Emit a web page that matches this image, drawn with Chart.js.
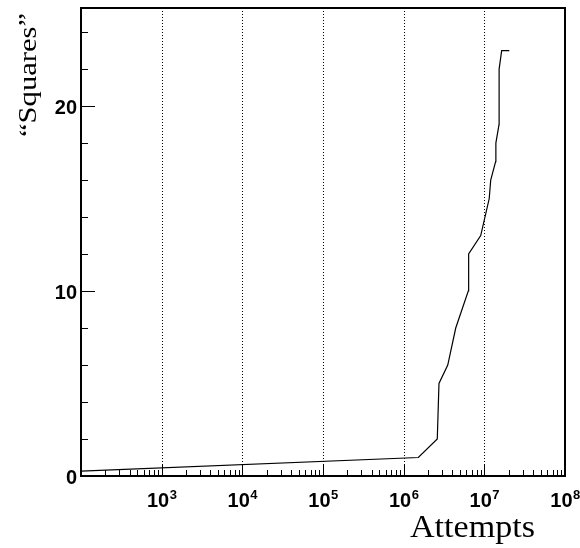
<!DOCTYPE html>
<html>
<head>
<meta charset="utf-8">
<script src="https://cdn.jsdelivr.net/npm/chart.js@4.4.1/dist/chart.umd.min.js"></script>
<style>
html,body{margin:0;padding:0;background:#fff;}
canvas{display:block;}
</style>
</head>
<body>
<canvas id="c" width="580" height="548"></canvas>
<script>
// ---- data ----
const attempts = [3, 1.52e6, 2.61e6, 2.74e6, 3.52e6, 4.42e6, 6.32e6, 6.39e6, 9.02e6, 1.15e7, 1.20e7, 1.38e7, 1.39e7, 1.52e7, 1.525e7, 1.64e7, 2.04e7];
const squares  = [0, 1, 2, 5, 6, 8, 10, 12, 13, 15, 16, 17, 18, 19, 22, 23, 23];

const xMin = 1e2, xMax = 1e8;
const yMin = 0, yMax = 25.3;
const xDecadeExponents = [3, 4, 5, 6, 7, 8];   // labelled decades
const xGridExponents = [3, 4, 5, 6, 7];        // dotted grid lines
const yMajorTicks = [0, 10, 20];
const yMinorStep = 2;
const xTitle = 'Attempts';
const yTitle = '\u201CSquares\u201D';

const points = attempts.map((a, i) => ({x: a, y: squares[i]}));

function stretchedText(ctx, text, x, y, targetWidth) {
  const w = ctx.measureText(text).width;
  const s = targetWidth / w;
  ctx.save();
  ctx.translate(x, y);
  ctx.scale(s, 1);
  ctx.fillText(text, 0, 0);
  ctx.restore();
}

const decor = {
  id: 'decor',
  beforeDatasetsDraw(chart) {
    const {ctx, chartArea: a, scales: {x}} = chart;
    ctx.save();
    ctx.strokeStyle = '#000';
    ctx.lineWidth = 1;
    ctx.setLineDash([1, 2]);
    xGridExponents.forEach(e => {
      const px = Math.round(x.getPixelForValue(Math.pow(10, e))) + 0.5;
      ctx.beginPath(); ctx.moveTo(px, a.top); ctx.lineTo(px, a.bottom); ctx.stroke();
    });
    ctx.restore();
  },
  afterDatasetsDraw(chart) {
    const {ctx, chartArea: a, scales: {x, y}} = chart;
    ctx.save();
    ctx.strokeStyle = '#000';
    ctx.fillStyle = '#000';
    ctx.setLineDash([]);
    // frame
    ctx.lineWidth = 2;
    ctx.strokeRect(a.left, a.top, a.right - a.left, a.bottom - a.top);
    ctx.lineWidth = 1;
    // x ticks
    const lx = Math.log10(xMin), hx = Math.log10(xMax);
    for (let e = lx; e < hx; e++) {
      for (let k = 1; k <= 9; k++) {
        const v = k * Math.pow(10, e);
        if (v <= xMin || v >= xMax) continue;
        const px = Math.round(x.getPixelForValue(v)) + 0.5;
        const len = k === 1 ? 12 : 6;
        ctx.beginPath(); ctx.moveTo(px, a.bottom); ctx.lineTo(px, a.bottom - len); ctx.stroke();
      }
    }
    // y ticks
    for (let v = yMin + yMinorStep; v < yMax; v += yMinorStep) {
      const py = Math.round(y.getPixelForValue(v)) + 0.5;
      const len = yMajorTicks.includes(v) ? 14 : 7;
      ctx.beginPath(); ctx.moveTo(a.left, py); ctx.lineTo(a.left + len, py); ctx.stroke();
    }
    // y labels
    ctx.font = 'bold 20px "Liberation Sans", Arial, sans-serif';
    ctx.textAlign = 'right';
    ctx.textBaseline = 'middle';
    yMajorTicks.forEach(v => {
      ctx.fillText(String(v), a.left - 4, y.getPixelForValue(v) + 2);
    });
    // x labels: 10^n
    ctx.textBaseline = 'alphabetic';
    ctx.textAlign = 'left';
    xDecadeExponents.forEach(e => {
      const px = x.getPixelForValue(Math.pow(10, e));
      ctx.font = 'bold 20px "Liberation Sans", Arial, sans-serif';
      const w1 = ctx.measureText('10').width;
      ctx.font = 'bold 13px "Liberation Sans", Arial, sans-serif';
      const w2 = ctx.measureText(String(e)).width;
      const left = px - (w1 + w2) / 2;
      ctx.font = 'bold 20px "Liberation Sans", Arial, sans-serif';
      ctx.fillText('10', left, a.bottom + 31);
      ctx.font = 'bold 13px "Liberation Sans", Arial, sans-serif';
      ctx.fillText(String(e), left + w1 + 0.5, a.bottom + 23);
    });
    // x title (right end at 535)
    ctx.font = '32px "Liberation Serif", "Times New Roman", serif';
    ctx.textAlign = 'left';
    stretchedText(ctx, xTitle, 410, 537, 125);
    // y title (rotated, top end at y=13)
    ctx.save();
    ctx.translate(35.5, 137);
    ctx.rotate(-Math.PI / 2);
    ctx.font = '26px "Liberation Serif", "Times New Roman", serif';
    ctx.textAlign = 'left';
    ctx.textBaseline = 'alphabetic';
    stretchedText(ctx, yTitle, 0, 0, 124);
    ctx.restore();
    ctx.restore();
  }
};

new Chart(document.getElementById('c'), {
  type: 'line',
  data: {
    datasets: [{
      data: points,
      borderColor: '#000',
      borderWidth: 1.2,
      pointRadius: 0,
      tension: 0,
      fill: false
    }]
  },
  options: {
    responsive: false,
    devicePixelRatio: 1,
    animation: false,
    layout: {padding: {left: 81, right: 15, top: 8, bottom: 72}},
    plugins: {legend: {display: false}, tooltip: {enabled: false}, title: {display: false}},
    scales: {
      x: {type: 'logarithmic', min: xMin, max: xMax, display: false},
      y: {type: 'linear', min: yMin, max: yMax, display: false}
    }
  },
  plugins: [decor]
});
</script>
</body>
</html>
